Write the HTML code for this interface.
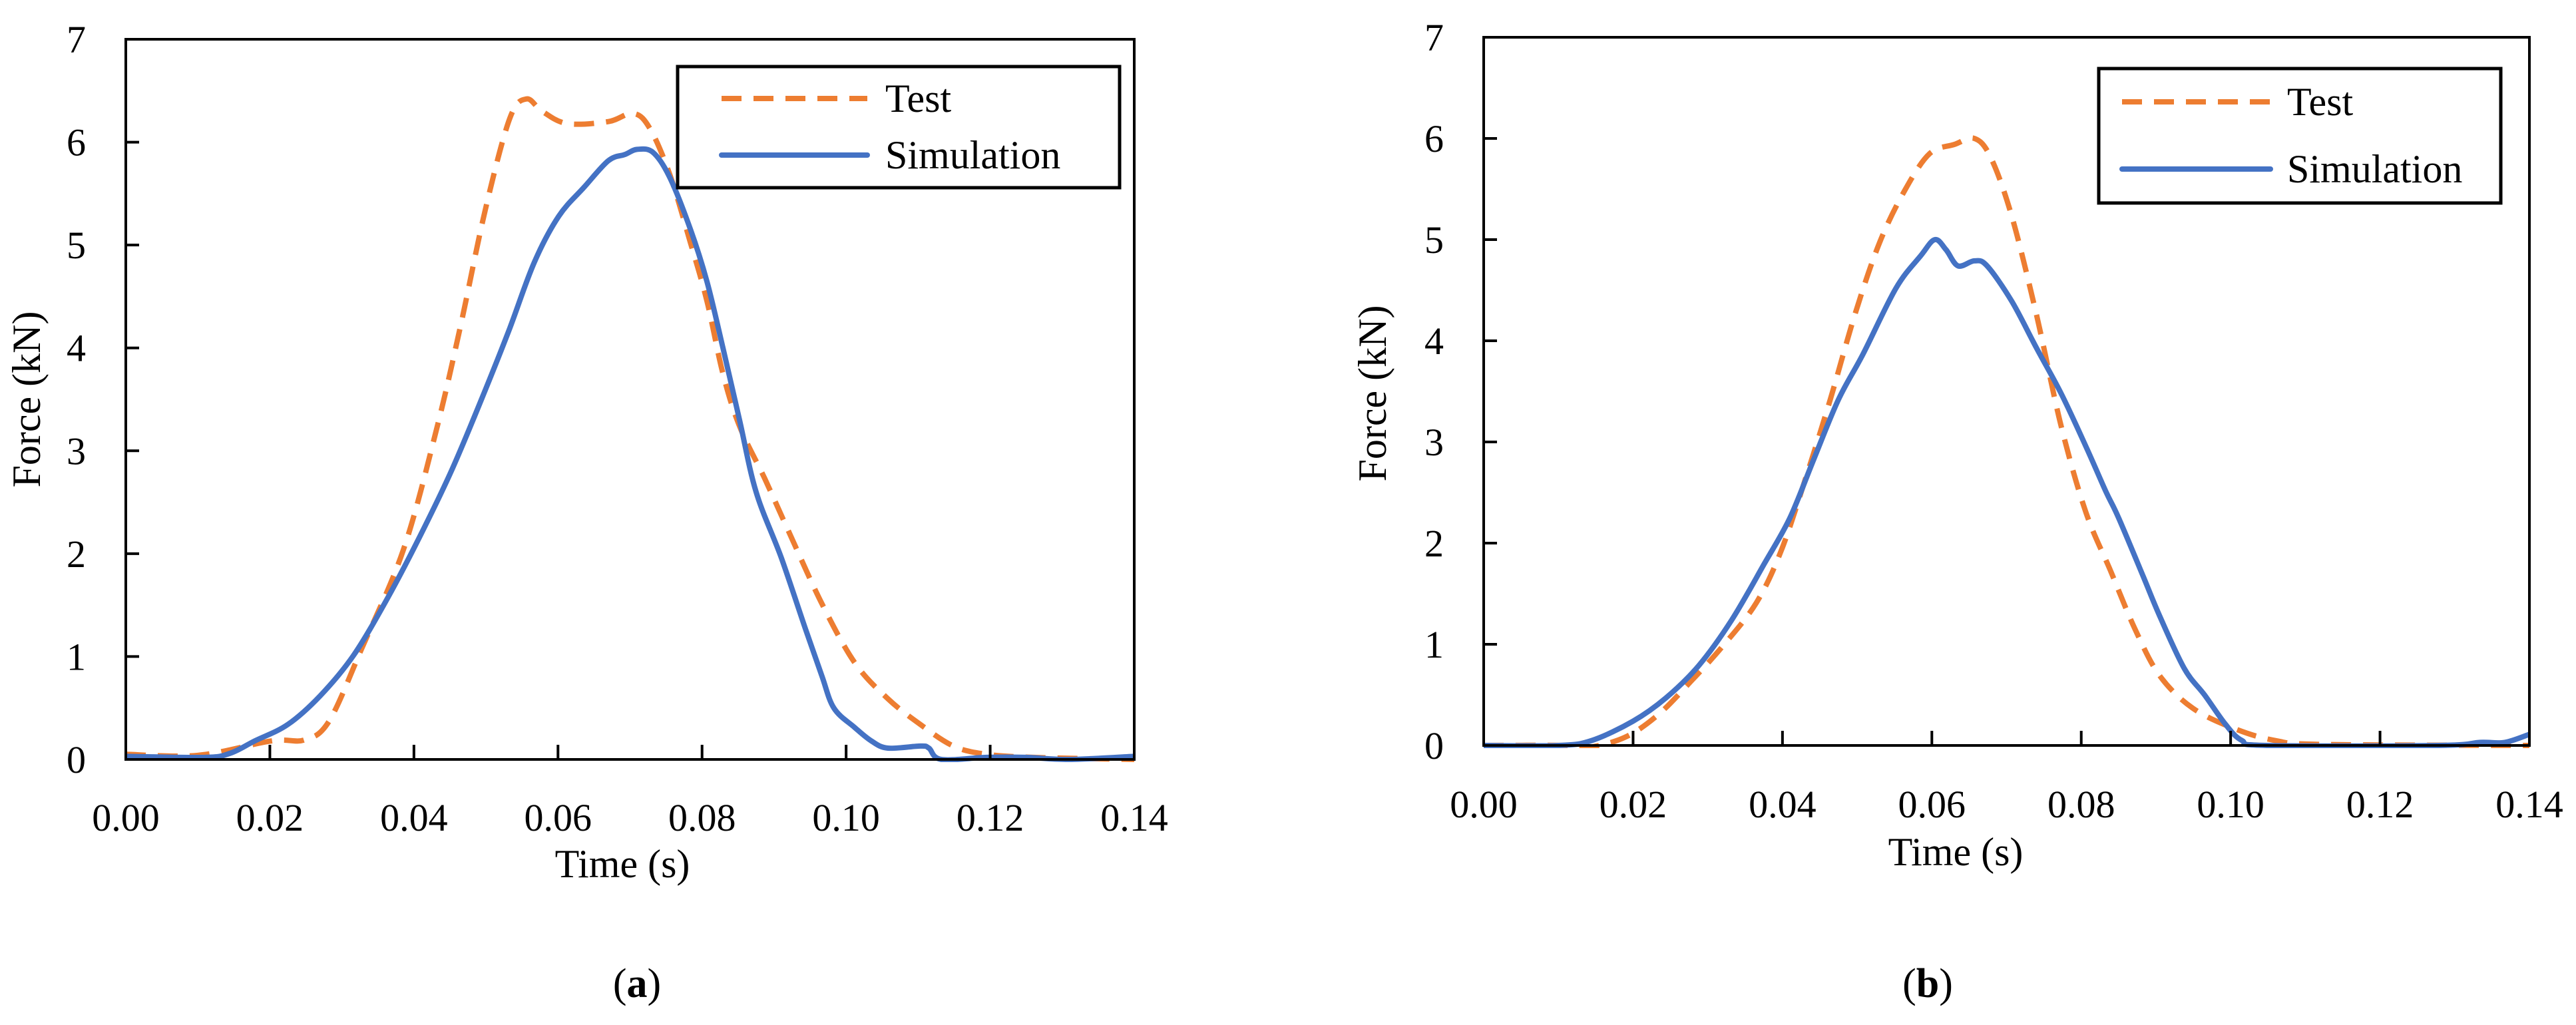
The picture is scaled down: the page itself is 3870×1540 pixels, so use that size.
<!DOCTYPE html>
<html><head><meta charset="utf-8">
<style>
html,body{margin:0;padding:0;background:#fff;}
svg{display:block;}
text{font-family:"Liberation Serif",serif;fill:#000;}
</style></head>
<body>
<svg id="fig" width="3870" height="1540" viewBox="0 0 3870 1540" xmlns="http://www.w3.org/2000/svg"></svg>
<script>
// Shared axis data
const xTicks = [0, 0.02, 0.04, 0.06, 0.08, 0.10, 0.12, 0.14];
const xTickLabels = ["0.00","0.02","0.04","0.06","0.08","0.10","0.12","0.14"];
const yTicks = [0,1,2,3,4,5,6,7];
const yTickLabels = ["0","1","2","3","4","5","6","7"];
// Panel (a)
const aTestT = [0,0.01,0.0202,0.0248,0.0282,0.0327,0.0385,0.043,0.0464,0.0499,0.0533,0.0556,0.0578,0.0613,0.067,0.0704,0.0727,0.0755,0.0784,0.0807,0.0829,0.0852,0.0887,0.092,0.0966,0.1012,0.1058,0.1103,0.1149,0.1195,0.126,0.14];
const aTestF = [0.05,0.04,0.18,0.19,0.37,1.07,2.03,3.17,4.19,5.34,6.23,6.42,6.3,6.18,6.2,6.28,6.14,5.69,5.02,4.45,3.75,3.24,2.73,2.22,1.52,0.94,0.59,0.34,0.13,0.05,0.02,0];
const aSimT = [0,0.011,0.0145,0.0179,0.0225,0.027,0.0316,0.0362,0.0407,0.0453,0.0499,0.0533,0.0567,0.0601,0.0636,0.067,0.0693,0.071,0.0732,0.0755,0.0784,0.0807,0.0829,0.0852,0.0875,0.091,0.0944,0.0966,0.0983,0.1012,0.1035,0.1058,0.1103,0.1115,0.1132,0.1195,0.125,0.131,0.14];
const aSimF = [0.03,0.02,0.06,0.18,0.34,0.62,1.01,1.55,2.15,2.82,3.59,4.19,4.83,5.28,5.56,5.82,5.88,5.93,5.9,5.66,5.15,4.64,4.0,3.3,2.6,1.96,1.26,0.82,0.5,0.31,0.18,0.11,0.13,0.11,0,0.02,0.02,0,0.03];
// Panel (b)
const bTestT = [0,0.0112,0.014,0.0189,0.0233,0.0277,0.0321,0.0365,0.0398,0.0431,0.0464,0.0497,0.053,0.0564,0.0597,0.063,0.0657,0.0679,0.0707,0.074,0.0773,0.0806,0.0839,0.0872,0.0905,0.0949,0.1004,0.1059,0.1125,0.14];
const bTestF = [0,0,-0.02,0.08,0.3,0.63,0.99,1.41,1.92,2.64,3.42,4.26,4.97,5.49,5.85,5.94,6.0,5.81,5.23,4.26,3.16,2.31,1.73,1.15,0.69,0.37,0.17,0.05,0.01,0];
const bSimT = [0,0.0101,0.0145,0.02,0.0244,0.0288,0.0332,0.0376,0.041,0.0442,0.0475,0.0508,0.0552,0.0585,0.0604,0.0619,0.0635,0.0657,0.0674,0.0707,0.074,0.0773,0.0806,0.0833,0.085,0.0883,0.0905,0.0938,0.0965,0.0993,0.1015,0.1048,0.1279,0.1334,0.1367,0.14];
const bSimF = [0,0,0.05,0.24,0.47,0.79,1.24,1.8,2.25,2.83,3.42,3.87,4.52,4.84,5.0,4.9,4.74,4.79,4.74,4.39,3.93,3.48,2.96,2.51,2.25,1.67,1.28,0.76,0.5,0.21,0.05,0,0,0.03,0.03,0.11];

const NS = "http://www.w3.org/2000/svg";
const svg = document.getElementById('fig');
function mk(tag, attrs, parent){
  const e = document.createElementNS(NS, tag);
  for (const k in attrs) e.setAttribute(k, attrs[k]);
  (parent||svg).appendChild(e);
  return e;
}
function smoothPath(pts){
  let d = 'M' + pts[0][0].toFixed(1) + ',' + pts[0][1].toFixed(1);
  for (let i=0;i<pts.length-1;i++){
    const p0 = pts[i-1]||pts[i], p1 = pts[i], p2 = pts[i+1], p3 = pts[i+2]||p2;
    const c1x = p1[0] + (p2[0]-p0[0])/6, c1y = p1[1] + (p2[1]-p0[1])/6;
    const c2x = p2[0] - (p3[0]-p1[0])/6, c2y = p2[1] - (p3[1]-p1[1])/6;
    d += 'C' + c1x.toFixed(1)+','+c1y.toFixed(1)+' '+c2x.toFixed(1)+','+c2y.toFixed(1)+' '+p2[0].toFixed(1)+','+p2[1].toFixed(1);
  }
  return d;
}

function panel(p){
  const g = mk('g', {});
  
  
  const X = t => p.x0 + (t - 0) / 0.14 * (p.x1 - p.x0);
  const Y = v => p.y0 - v / 7 * (p.y0 - p.y1);
  const cp = mk('clipPath', {id:'clip-' + p.id}, g);
  mk('rect', {x:p.x0, y:p.y1, width:p.x1-p.x0, height:p.y0-p.y1+4}, cp);
  function line(ts, fs, color, dash, name){
    const pts = ts.map((t,i)=>[X(t), Y(Math.max(fs[i],-0.03))]);
    const path = mk('path', {d:smoothPath(pts), fill:'none', stroke:color, 'stroke-width':8, 'stroke-linejoin':'round', 'stroke-linecap':dash?'butt':'round', 'clip-path':'url(#clip-'+p.id+')'}, g);
    if (dash) path.setAttribute('stroke-dasharray', dash);
    
    
  }
  line(p.testT, p.testF, '#ED7D31', '30 18', 'test-line-' + p.id);
  line(p.simT, p.simF, '#4472C4', null, 'simulation-line-' + p.id);
  const fr = mk('rect', {x:p.x0, y:p.y1, width:p.x1-p.x0, height:p.y0-p.y1, fill:'none', stroke:'#000', 'stroke-width':4}, g);
  
  
  xTicks.forEach((t,i)=>{
    if (i>0 && i<xTicks.length-1){
      const tk = mk('line', {x1:X(t), x2:X(t), y1:p.y0, y2:p.y0-22, stroke:'#000', 'stroke-width':4}, g);
      
      
    }
    const tx = mk('text', {x:X(t), y:p.xlabY, 'font-size':58, 'text-anchor':'middle'}, g);
    tx.textContent = xTickLabels[i];
    
    
  });
  yTicks.forEach((v,i)=>{
    if (i>0 && i<yTicks.length-1){
      const tk = mk('line', {x1:p.x0, x2:p.x0+20, y1:Y(v), y2:Y(v), stroke:'#000', 'stroke-width':4}, g);
      
      
    }
    const tx = mk('text', {x:p.x0-60, y:Y(v)+20, 'font-size':58, 'text-anchor':'end'}, g);
    tx.textContent = yTickLabels[i];
    
    
  });
  const xt = mk('text', {x:p.xtX, y:p.xtY, 'font-size':60, 'text-anchor':'middle'}, g);
  xt.textContent = 'Time (s)';
  
  
  const yt = mk('text', {x:0, y:0, 'font-size':60, 'text-anchor':'middle', transform:'translate('+p.ytX+','+p.ytY+') rotate(-90)'}, g);
  yt.textContent = 'Force (kN)';
  
  
  const lg = mk('g', {}, g);
  
  
  mk('rect', {x:p.lx0, y:p.ly0, width:p.lx1-p.lx0, height:p.ly1-p.ly0, fill:'#fff', stroke:'#000', 'stroke-width':5}, lg);
  const l1 = mk('line', {x1:p.llx0, x2:p.llx1, y1:p.lty, y2:p.lty, stroke:'#ED7D31', 'stroke-width':8, 'stroke-dasharray':'30 18'}, lg);
  
  
  const t1 = mk('text', {x:p.ltx, y:p.lty+20, 'font-size':60}, lg);
  t1.textContent = 'Test';
  
  
  const l2 = mk('line', {x1:p.llx0, x2:p.llx1, y1:p.lsy, y2:p.lsy, stroke:'#4472C4', 'stroke-width':8, 'stroke-linecap':'round'}, lg);
  
  
  const t2 = mk('text', {x:p.ltx, y:p.lsy+20, 'font-size':60}, lg);
  t2.textContent = 'Simulation';
  
  
  const cap = mk('text', {x:p.capX, y:p.capY, 'font-size':62, 'text-anchor':'middle'}, g);
  cap.innerHTML = '(<tspan font-weight="bold">' + p.id + '</tspan>)';
  
  
}

panel({id:'a', x0:189, x1:1704, y0:1141, y1:59, xlabY:1248, xtX:935, xtY:1318, ytX:60, ytY:600,
  lx0:1018, lx1:1682, ly0:100, ly1:282, llx0:1084, llx1:1303, lty:148, lsy:233, ltx:1330,
  capX:957, capY:1498, testT:aTestT, testF:aTestF, simT:aSimT, simF:aSimF});
panel({id:'b', x0:2229, x1:3800, y0:1120, y1:56, xlabY:1228, xtX:2938, xtY:1300, ytX:2082, ytY:591,
  lx0:3153, lx1:3757, ly0:103, ly1:305, llx0:3188, llx1:3411, lty:153, lsy:254, ltx:3436,
  capX:2896, capY:1498, testT:bTestT, testF:bTestF, simT:bSimT, simF:bSimF});
</script>
</body></html>
